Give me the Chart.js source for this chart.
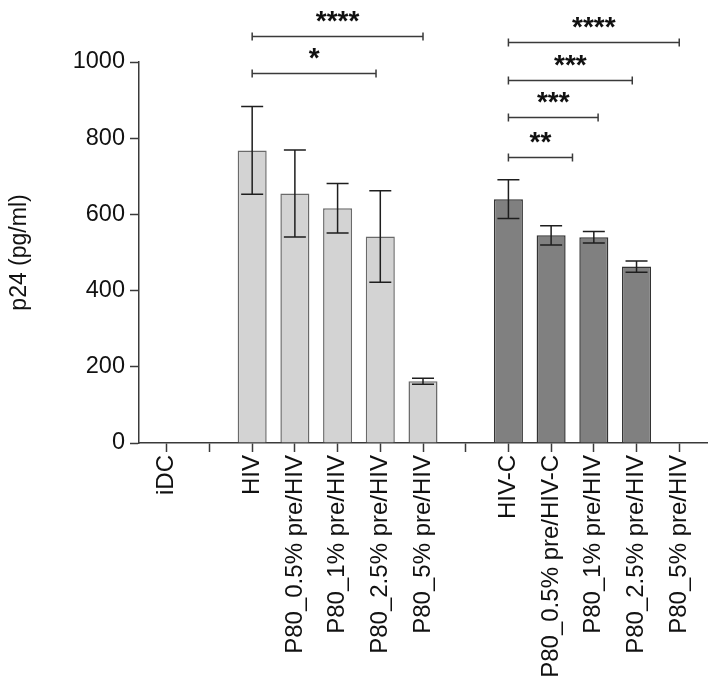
<!DOCTYPE html>
<html>
<head>
<meta charset="utf-8">
<script src="https://cdn.jsdelivr.net/npm/chart.js@4.4.1/dist/chart.umd.min.js"></script>
<style>
  html, body { margin: 0; padding: 0; background: #fff; }
  #wrap { width: 717px; height: 691px; }
</style>
</head>
<body>
<div id="wrap"><canvas id="chart" width="717" height="691"></canvas></div>
<script>
// ---------- data ----------
const categories = [
  "iDC", "",
  "HIV", "P80_0.5% pre/HIV", "P80_1% pre/HIV", "P80_2.5% pre/HIV", "P80_5% pre/HIV", "",
  "HIV-C", "P80_0.5% pre/HIV-C", "P80_1% pre/HIV", "P80_2.5% pre/HIV", "P80_5% pre/HIV"
];
const groups  = ["ctrl", null, "hiv", "hiv", "hiv", "hiv", "hiv", null, "hivc", "hivc", "hivc", "hivc", "hivc"];
const p24Mean = [0, null, 768, 655, 616, 542, 162, null, 640, 545, 540, 463, 0];
const p24Err  = [0, null, 115, 114, 65, 120, 8, null, 51, 25, 15, 15, 0];
const yTicks  = [0, 200, 400, 600, 800, 1000];

// significance brackets
const sigFrom  = [2, 2, 8, 8, 8, 8];
const sigTo    = [6, 4.9, 12, 10.9, 10.1, 9.5];
const sigLevel = [1068, 970, 1053, 953, 855, 750];
const sigLabel = ["****", "*", "****", "***", "***", "**"];

// ---------- styles ----------
const FONT = "'Liberation Sans', Arial, Helvetica, sans-serif";
const fill   = { ctrl: "#d3d3d3", hiv: "#d3d3d3", hivc: "#808080" };
const border = { ctrl: "#6a6a6a", hiv: "#6a6a6a", hivc: "#333333" };

Chart.defaults.font.family = FONT;
Chart.defaults.color = "#111";

const points = [];
categories.forEach((c, i) => {
  if (p24Mean[i] === null) return;
  points.push({ x: i, y: p24Mean[i], err: p24Err[i], g: groups[i] });
});

// ---------- error bars ----------
const errorBars = {
  id: "errorBars",
  afterDatasetsDraw(chart) {
    const { ctx } = chart;
    const y = chart.scales.y;
    const meta = chart.getDatasetMeta(0);
    ctx.save();
    ctx.strokeStyle = "#1e1e1e";
    ctx.lineWidth = 1.5;
    meta.data.forEach((bar, i) => {
      const d = points[i];
      if (!d.err) return;
      const hi = y.getPixelForValue(d.y + d.err);
      const lo = y.getPixelForValue(d.y - d.err);
      const cap = 11;
      ctx.beginPath();
      ctx.moveTo(bar.x, hi); ctx.lineTo(bar.x, lo);
      ctx.moveTo(bar.x - cap, hi); ctx.lineTo(bar.x + cap, hi);
      ctx.moveTo(bar.x - cap, lo); ctx.lineTo(bar.x + cap, lo);
      ctx.stroke();
    });
    ctx.restore();
  }
};

// ---------- significance brackets ----------
const sigBrackets = {
  id: "sigBrackets",
  afterDraw(chart) {
    const { ctx } = chart;
    const x = chart.scales.x, y = chart.scales.y;
    ctx.save();
    ctx.strokeStyle = "#3a3a3a";
    ctx.lineWidth = 1.5;
    ctx.fillStyle = "#111";
    ctx.font = "bold 28px " + FONT;
    ctx.textAlign = "center";
    ctx.textBaseline = "middle";
    sigLabel.forEach((lab, i) => {
      const x1 = x.getPixelForValue(sigFrom[i]);
      const x2 = x.getPixelForValue(sigTo[i]);
      const yy = Math.round(y.getPixelForValue(sigLevel[i])) + 0.5;
      ctx.beginPath();
      ctx.moveTo(x1, yy); ctx.lineTo(x2, yy);
      ctx.moveTo(x1, yy - 4); ctx.lineTo(x1, yy + 4);
      ctx.moveTo(x2, yy - 4); ctx.lineTo(x2, yy + 4);
      ctx.stroke();
      ctx.fillText(lab, (x1 + x2) / 2, yy - 14);
    });
    ctx.restore();
  }
};

new Chart(document.getElementById("chart"), {
  type: "bar",
  data: {
    datasets: [{
      data: points,
      backgroundColor: points.map(p => fill[p.g]),
      borderColor: points.map(p => border[p.g]),
      borderWidth: 1.5,
      categoryPercentage: 0.8,
      barPercentage: 0.85
    }]
  },
  options: {
    responsive: false,
    animation: false,
    layout: { padding: { top: 62, right: 10, left: 0, bottom: 0 } },
    plugins: { legend: { display: false }, tooltip: { enabled: false } },
    scales: {
      x: {
        type: "linear",
        offset: false,
        min: -0.65,
        max: 12.65,
        afterFit(s) { s.height = 248; },
        afterBuildTicks(s) { s.ticks = categories.map((c, i) => ({ value: i })); },
        grid: { offset: false, drawOnChartArea: false, drawTicks: true, tickLength: 9, tickColor: "#3a3a3a", tickWidth: 1.5 },
        border: { color: "#3a3a3a", width: 1.5 },
        ticks: {
          autoSkip: false,
          minRotation: 90,
          maxRotation: 90,
          padding: 3,
          font: { size: 24 },
          callback: v => categories[v] || ""
        }
      },
      y: {
        min: 0,
        max: 1000,
        afterFit(s) { s.width = 139; },
        afterBuildTicks(s) { s.ticks = yTicks.map(v => ({ value: v })); },
        grid: { drawOnChartArea: false, drawTicks: true, tickLength: 9, tickColor: "#3a3a3a", tickWidth: 1.5 },
        border: { color: "#3a3a3a", width: 1.5 },
        ticks: { padding: 5, font: { size: 23.5 }, callback: v => String(v) },
        title: {
          display: true,
          text: "p24 (pg/ml)",
          font: { size: 23 },
          padding: { top: 6, bottom: 0 }
        }
      }
    }
  },
  plugins: [errorBars, sigBrackets]
});
</script>
</body>
</html>
